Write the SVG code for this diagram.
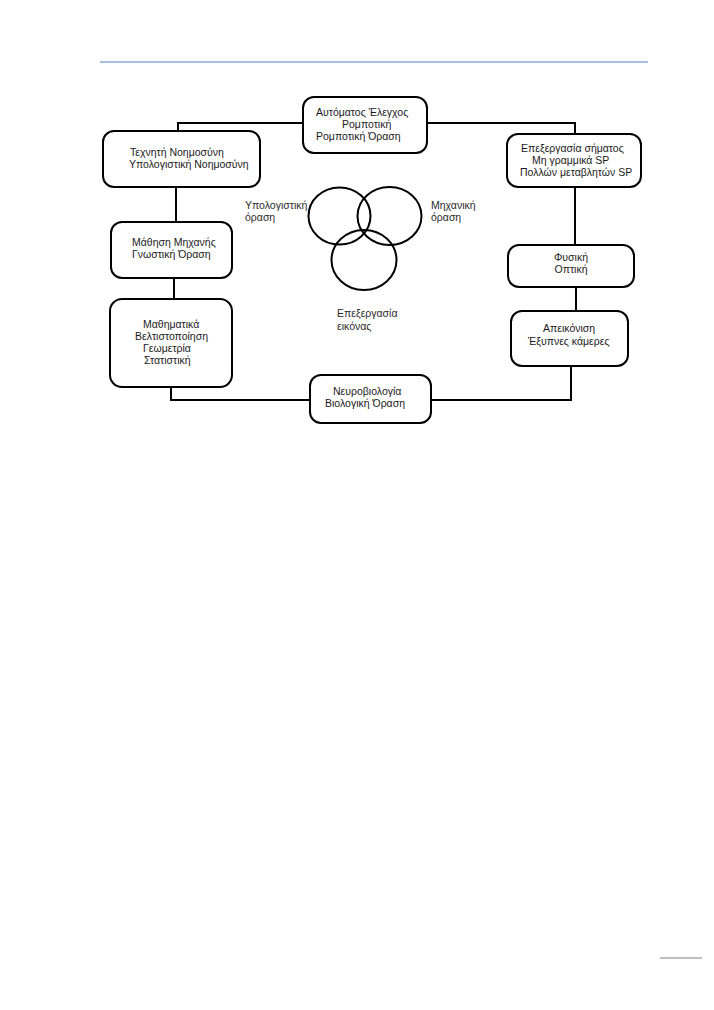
<svg xmlns="http://www.w3.org/2000/svg" width="714" height="1010" viewBox="0 0 714 1010">
<style>
.box{fill:#fff;stroke:#000;stroke-width:2}
.ln{fill:none;stroke:#000;stroke-width:2}
.c{fill:none;stroke:#000;stroke-width:2}
text{font-family:"Liberation Sans",Arial,sans-serif;font-size:10.5px;fill:#1a1a1a}
.lab{fill:#2a2a2a}
</style>
<rect width="714" height="1010" fill="#fff"/>
<line x1="100" y1="62" x2="648" y2="62" stroke="#4f81bd" stroke-width="1"/>
<line x1="660" y1="958" x2="702" y2="958" stroke="#7f7f7f" stroke-width="1"/>
<g id="connectors">
<polyline class="ln" points="303,123 178,123 178,131"/>
<polyline class="ln" points="427,123 575,123 575,134"/>
<line class="ln" x1="176" y1="187" x2="176" y2="222"/>
<line class="ln" x1="174" y1="278" x2="174" y2="299"/>
<polyline class="ln" points="171,387 171,400 310,400"/>
<line class="ln" x1="575" y1="187" x2="575" y2="245"/>
<line class="ln" x1="576" y1="287" x2="576" y2="311"/>
<polyline class="ln" points="431,400 571,400 571,366"/>
</g>
<g id="n-auto">
<rect class="box" x="303" y="97" width="124" height="56" rx="11"/>
<text x="316" y="116">Αυτόματος Έλεγχος</text>
<text x="342" y="128">Ρομποτική</text>
<text x="316" y="140">Ρομποτική Όραση</text>
</g>
<g id="n-ai">
<rect class="box" x="103" y="131" width="157" height="56" rx="11"/>
<text x="130" y="156">Τεχνητή Νοημοσύνη</text>
<text x="129" y="168">Υπολογιστική Νοημοσύνη</text>
</g>
<g id="n-ml">
<rect class="box" x="111" y="222" width="121" height="56" rx="11"/>
<text x="132" y="246">Μάθηση Μηχανής</text>
<text x="132" y="258">Γνωστική Όραση</text>
</g>
<g id="n-math">
<rect class="box" x="110" y="299" width="122" height="88" rx="12"/>
<text x="143" y="328">Μαθηματικά</text>
<text x="135" y="340">Βελτιστοποίηση</text>
<text x="143" y="352">Γεωμετρία</text>
<text x="144" y="364">Στατιστική</text>
</g>
<g id="n-neuro">
<rect class="box" x="310" y="375" width="121" height="48" rx="11"/>
<text x="333" y="395">Νευροβιολογία</text>
<text x="325" y="407">Βιολογική Όραση</text>
</g>
<g id="n-signal">
<rect class="box" x="507" y="134" width="134" height="53" rx="11"/>
<text x="521" y="152">Επεξεργασία σήματος</text>
<text x="532" y="164">Μη γραμμικά SP</text>
<text x="520" y="176">Πολλών μεταβλητών SP</text>
</g>
<g id="n-phys">
<rect class="box" x="508" y="245" width="126" height="42" rx="11"/>
<text x="571" y="261" text-anchor="middle">Φυσική</text>
<text x="571" y="273" text-anchor="middle">Οπτική</text>
</g>
<g id="n-imaging">
<rect class="box" x="511" y="311" width="117" height="55" rx="11"/>
<text x="543" y="332">Απεικόνιση</text>
<text x="528" y="345">Έξυπνες κάμερες</text>
</g>
<g id="venn">
<ellipse class="c" cx="339.5" cy="216" rx="31" ry="28.5"/>
<ellipse class="c" cx="389.5" cy="216" rx="32" ry="29"/>
<ellipse class="c" cx="364" cy="260" rx="32.5" ry="30"/>
<text class="lab" x="245" y="209">Υπολογιστική</text>
<text class="lab" x="245" y="221">όραση</text>
<text class="lab" x="431" y="209">Μηχανική</text>
<text class="lab" x="431" y="221">όραση</text>
<text class="lab" x="337" y="317">Επεξεργασία</text>
<text class="lab" x="337" y="330">εικόνας</text>
</g>
</svg>
